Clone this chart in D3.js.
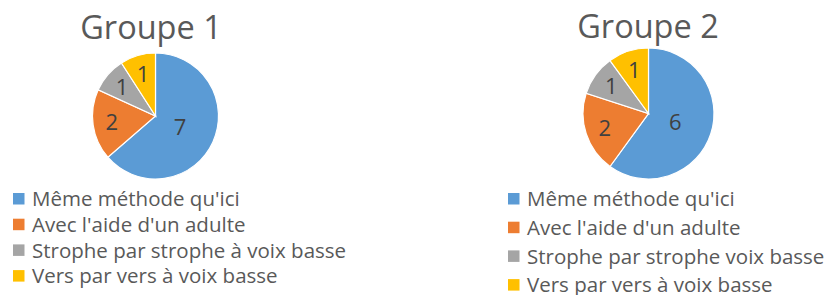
<!DOCTYPE html>
<html lang="fr">
<head>
<meta charset="utf-8">
<title>Groupes</title>
<script src="https://d3js.org/d3.v7.min.js"></script>
<style>
  body { margin: 0; background: #fff; }
  svg { display: block; font-family: "Open Sans", sans-serif; }
</style>
</head>
<body>
<div id="chart"></div>
<script>
// data
var colors = ["#5B9BD5", "#ED7D31", "#A5A5A5", "#FFC000"];
var titles = ["Groupe 1", "Groupe 2"];
var labels1 = ["Même méthode qu'ici", "Avec l'aide d'un adulte", "Strophe par strophe à voix basse", "Vers par vers à voix basse"];
var labels2 = ["Même méthode qu'ici", "Avec l'aide d'un adulte", "Strophe par strophe voix basse", "Vers par vers à voix basse"];
var values1 = [7, 2, 1, 1];
var values2 = [6, 2, 1, 1];

var width = 830, height = 295;
var svg = d3.select("#chart").append("svg")
  .attr("width", width)
  .attr("height", height);

// layout for each panel
var panels = [
  {title: titles[0], labels: labels1, values: values1, cx: 155.5, cy: 116, r: 63, titleX: 151, titleY: 39, legX: 13, legY: 199, legStep: 25.7},
  {title: titles[1], labels: labels2, values: values2, cx: 648.5, cy: 113.5, r: 65.5, titleX: 648, titleY: 38, legX: 508, legY: 199, legStep: 28.7}
];

var pie = d3.pie().sort(null).value(d => d);

panels.forEach(function(p) {
  var g = svg.append("g");

  g.append("text")
    .attr("x", p.titleX)
    .attr("y", p.titleY)
    .attr("text-anchor", "middle")
    .attr("font-size", 32.5)
    .attr("fill", "#595959")
    .text(p.title);

  var arc = d3.arc().innerRadius(0).outerRadius(p.r);
  // big slices get their label nearer the centre, like Excel's best fit
  var labelPos = function(d) {
    var k = (d.endAngle - d.startAngle) > Math.PI ? 0.43 : 0.7;
    return d3.arc().innerRadius(p.r * k).outerRadius(p.r * k).centroid(d);
  };

  var pg = g.append("g").attr("transform", `translate(${p.cx},${p.cy})`);
  var arcs = pie(p.values);

  pg.selectAll("path")
    .data(arcs)
    .enter().append("path")
    .attr("d", arc)
    .attr("fill", (d, i) => colors[i])
    .attr("stroke", "#fff")
    .attr("stroke-width", 1.2);

  pg.selectAll("text")
    .data(arcs)
    .enter().append("text")
    .attr("transform", d => "translate(" + labelPos(d) + ")")
    .attr("text-anchor", "middle")
    .attr("dy", "0.36em")
    .attr("font-size", 22)
    .attr("fill", "#404040")
    .text(d => d.data);

  var legend = g.selectAll(".leg")
    .data(p.labels)
    .enter().append("g")
    .attr("transform", (d, i) => "translate(" + p.legX + "," + (p.legY + i * p.legStep) + ")");

  legend.append("rect")
    .attr("x", 0)
    .attr("y", -6)
    .attr("width", 11.5)
    .attr("height", 11.5)
    .attr("fill", (d, i) => colors[i]);

  legend.append("text")
    .attr("x", 19)
    .attr("y", 0)
    .attr("dy", "0.35em")
    .attr("font-size", 20.5)
    .attr("fill", "#595959")
    .text(d => d);
});
</script>
</body>
</html>
